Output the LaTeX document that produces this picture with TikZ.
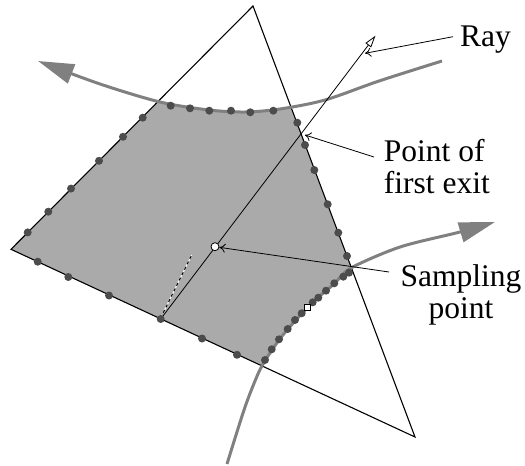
\documentclass[tikz,border=0pt]{standalone}
\usepackage{fontspec}
\setmainfont{Liberation Serif}
\usetikzlibrary{arrows.meta}
\definecolor{regiongray}{gray}{0.667}
\definecolor{curvegray}{gray}{0.5}
\definecolor{dotgray}{gray}{0.3}
\begin{document}
\begin{tikzpicture}[x=1pt,y=-1pt,
  tri/.style={black, line width=1.1pt, line join=miter},
  flow/.style={curvegray, line width=3pt, -{Triangle[length=36pt, width=20pt]}},
  sdot/.style={circle, fill=dotgray, inner sep=0pt, minimum size=8pt},
  lbl/.style={font=\fontsize{31.5}{31.6}\selectfont, inner sep=0pt},
  leader/.style={black, line width=0.8pt, -{To[length=6pt, width=9pt]}},
  raystyle/.style={black, line width=0.8pt, -{Triangle[open, length=12pt, width=7pt]}}]
\useasboundingbox (0,0) rectangle (525,466);

% triangle vertices
\coordinate (A) at (253,6);
\coordinate (L) at (11,249.3);
\coordinate (B) at (415,437);

% shaded region: triangle clipped between the two flow curves
\begin{scope}
  \clip (A) -- (L) -- (B) -- cycle;
  \fill[regiongray] plot[smooth] coordinates {(227,464) (244,410) (255,381) (263,364) (279,340) (295,321) (313,302) (334,284) (351,268) (400,247) (460,232) (495,222)}
    -- plot[smooth] coordinates {(442,61) (379,81) (325,100) (280,109) (245,112) (209,110) (160,102) (100,84) (38,61)}
    -- (0,61) -- (0,466) -- cycle;
\end{scope}

% triangle
\draw[tri] (A) -- (L) -- (B) -- cycle;

% flow curves
\draw[flow] plot[smooth] coordinates {(442,61) (379,81) (325,100) (280,109) (245,112) (209,110) (160,102) (100,84) (38,61)};
\draw[flow] plot[smooth] coordinates {(227,464) (244,410) (255,381) (263,364) (279,340) (295,321) (313,302) (334,284) (351,268) (400,247) (460,232) (495,222)};

% dashed normal
\coordinate (n1) at (163.3,312.7);
\coordinate (n2) at (191.7,255);
\draw[white, line width=1pt] (n1) -- (n2);
\draw[black, line width=1pt, dash pattern=on 3pt off 3pt] (n1) -- (n2);

% ray
\coordinate (raystart) at (160.7,319);
\coordinate (raytip) at (375.5,35.7);
\draw[raystyle] (raystart) -- (raytip);

% boundary sample dots
\foreach \p [count=\i] in {(142.7,117.7),(123,136.8),(99,160.8),(71,188.6),(48.3,211.7),(27.7,232.4),
  (170.7,105.7),(190,108.3),(209.3,110.7),(231,110.7),(250.3,112.3),(273.3,110.7),
  (297.3,122.7),(305,145),(314.3,170),(327.7,204.3),(338.3,232.7),(347,256),
  (349,272.7),(343.3,276.7),(334.3,283.3),(326,290.7),(318.3,297.7),(312.7,302.3),
  (301.7,313.3),(295,320),(287.7,329),(279,339.3),(271.7,349.3),(265,360),
  (37.7,261.7),(68.3,277),(109,295.5),(160.7,319),(202,338.5),(237,354.8)}
  \node[sdot] (d\i) at \p {};

% white square sample
\node[draw=black, fill=white, line width=0.6pt, inner sep=0pt, minimum size=6pt] (sq) at (307.3,307.3) {};

% sampling point
\node[circle, draw=black, fill=white, line width=0.8pt, inner sep=0pt, minimum size=8pt] (sp) at (215,246.7) {};

% labels (multi-line: base anchor sits on the last line)
\node[lbl, anchor=base west] (raylbl) at (460,46.7) {Ray};
\node[lbl, anchor=base west, align=left] (exitlbl) at (383.7,193.3) {Point of\\first exit};
\node[lbl, anchor=base, align=center] (samplbl) at (461,318) {Sampling\\point};

% leaders
\coordinate (rayfrom) at (453,36.7);
\coordinate (rayto) at (365,53.3);
\coordinate (exitfrom) at (374,157);
\coordinate (exitto) at (305,135);
\coordinate (sampfrom) at (389,272);
\draw[leader] (rayfrom) -- (rayto);
\draw[leader] (exitfrom) -- (exitto);
\draw[leader] (sampfrom) -- (sp);
\end{tikzpicture}
\end{document}
